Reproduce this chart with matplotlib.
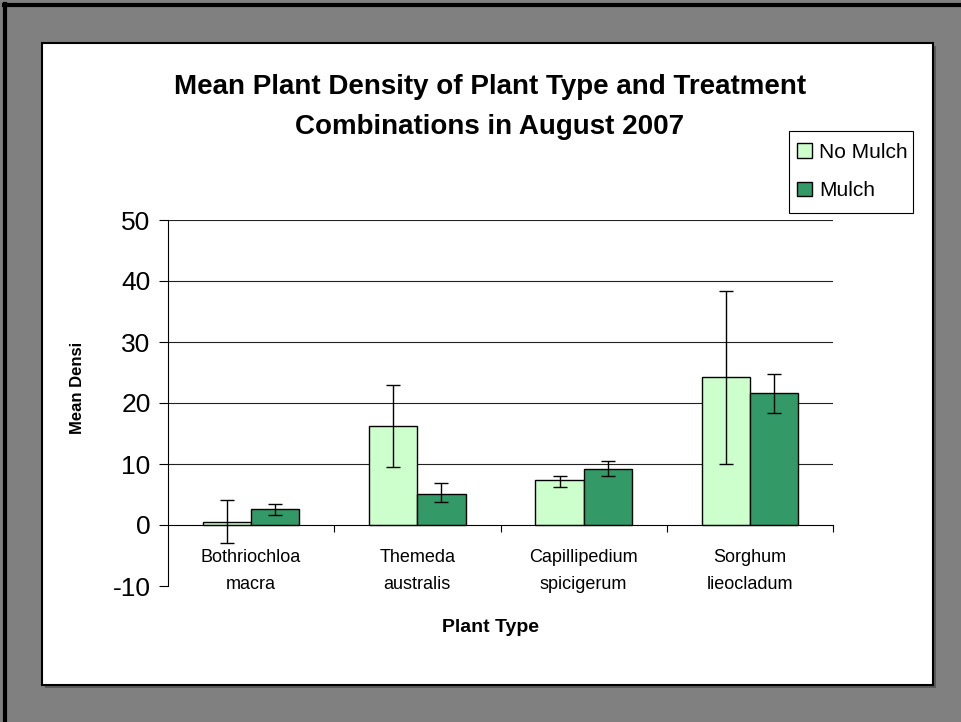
import matplotlib
matplotlib.use("Agg")
import matplotlib.pyplot as plt
import matplotlib.transforms as mtransforms
from matplotlib.patches import Rectangle
import numpy as np

plt.rcParams['font.family'] = ['Liberation Sans', 'DejaVu Sans']

categories = ["Bothriochloa\nmacra", "Themeda\naustralis", "Capillipedium\nspicigerum", "Sorghum\nlieocladum"]
series_names = ["No Mulch", "Mulch"]
no_mulch = [0.5, 16.2, 7.3, 24.2]
no_mulch_lo = [-3.0, 9.5, 6.3, 10.0]
no_mulch_hi = [4.1, 23.0, 8.0, 38.4]
mulch = [2.7, 5.1, 9.2, 21.6]
mulch_lo = [1.7, 3.8, 8.0, 18.4]
mulch_hi = [3.4, 6.9, 10.5, 24.8]
yticks = [-10, 0, 10, 20, 30, 40, 50]

W, H = 961, 722
fig = plt.figure(figsize=(W / 100, H / 100), dpi=100, facecolor='#808080')

def fx(px):
    return px / W

def fy(py):
    return 1 - py / H

# outer black lines (top/left)
fig.add_artist(plt.Line2D([fx(5), fx(5)], [fy(4), fy(722)], transform=fig.transFigure, color='black', lw=3, zorder=-3))
fig.add_artist(plt.Line2D([fx(4), fx(961)], [fy(5), fy(5)], transform=fig.transFigure, color='black', lw=3, zorder=-3))
# panel shadow and panel
fig.add_artist(Rectangle((fx(45), fy(688)), fx(933 - 42), (685 - 43) / H, transform=fig.transFigure,
                         facecolor='#5a5a5a', edgecolor='none', zorder=-2))
fig.add_artist(Rectangle((fx(42), fy(685)), fx(933 - 42), (685 - 43) / H, transform=fig.transFigure,
                         facecolor='white', edgecolor='black', lw=1.5, zorder=-1))

ax = fig.add_axes([fx(168), fy(586), fx(833 - 168), (586 - 220) / H])
ax.set_facecolor('none')

x = np.arange(len(categories))
bw = 0.29
c1, c2 = '#CCFFCC', '#339966'
nm = np.array(no_mulch); m = np.array(mulch)
ax.bar(x - bw / 2, nm, bw, color=c1, edgecolor='black', lw=1.0, zorder=3, label=series_names[0])
ax.bar(x + bw / 2, m, bw, color=c2, edgecolor='black', lw=1.0, zorder=3, label=series_names[1])
ax.errorbar(x - bw / 2, nm, yerr=[nm - np.array(no_mulch_lo), np.array(no_mulch_hi) - nm],
            fmt='none', ecolor='black', elinewidth=1.0, capsize=5, capthick=1.0, zorder=4)
ax.errorbar(x + bw / 2, m, yerr=[m - np.array(mulch_lo), np.array(mulch_hi) - m],
            fmt='none', ecolor='black', elinewidth=1.0, capsize=5, capthick=1.0, zorder=4)

ax.set_xlim(-0.5, len(categories) - 0.5)
ax.set_ylim(-10, 50)
ax.set_yticks(yticks)
ax.set_yticklabels([str(v) for v in yticks], fontsize=19)
ax.tick_params(axis='y', direction='out', length=6.5, width=0.8, pad=6)
for v in yticks:
    if v > 0:
        ax.axhline(v, color='#222222', lw=0.8, zorder=1)

for s in ['top', 'right']:
    ax.spines[s].set_visible(False)
ax.spines['left'].set_linewidth(0.8)
ax.spines['bottom'].set_position(('data', 0))
ax.spines['bottom'].set_linewidth(0.8)
ax.spines['bottom'].set_zorder(5)
ax.set_xticks(x + 0.5)
ax.set_xticklabels([])
ax.tick_params(axis='x', direction='out', length=5, width=0.8)

trans = mtransforms.blended_transform_factory(ax.transData, fig.transFigure)
for xi, lab in zip(x, categories):
    ax.text(xi, fy(549), lab, transform=trans, ha='center', va='top', fontsize=13, linespacing=1.75)

fig.text(fx(490), fy(628), "Plant Type", ha='center', va='center', fontsize=14, fontweight='bold')
fig.text(fx(77), fy(388), "Mean Densi", ha='center', va='center', rotation=90, fontsize=12, fontweight='bold')
fig.text(fx(490), fy(107), "Mean Plant Density of Plant Type and Treatment\nCombinations in August 2007",
         ha='center', va='center', fontsize=20, fontweight='bold', linespacing=1.75)

# legend frame
fig.add_artist(Rectangle((fx(789), fy(213)), fx(913 - 789), (213 - 131) / H, transform=fig.transFigure,
                         facecolor='white', edgecolor='black', lw=0.8, zorder=2))
leg = fig.legend(loc='upper left', bbox_to_anchor=(fx(797), fy(142.5)), fontsize=15,
                 frameon=False, borderaxespad=0, borderpad=0,
                 handlelength=0.72, handleheight=0.72, handletextpad=0.35, labelspacing=0.95)
leg.set_zorder(3)

fig.savefig('out.png', dpi=100, facecolor=fig.get_facecolor())
